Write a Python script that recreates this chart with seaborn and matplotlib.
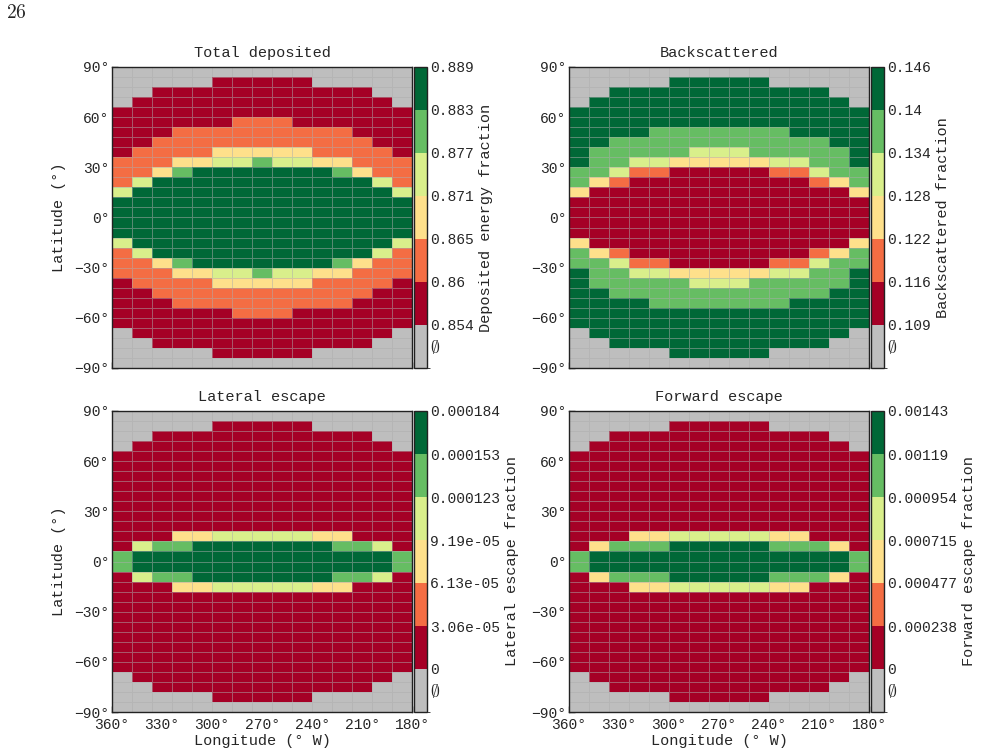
import numpy as np
import matplotlib
matplotlib.use('Agg')
import matplotlib.pyplot as plt
import seaborn as sns
from matplotlib.colors import ListedColormap, BoundaryNorm

sns.set_style('white')
plt.rcParams['font.family'] = ['Liberation Mono', 'DejaVu Sans']
plt.rcParams['mathtext.fontset'] = 'cm'

lon_labels = ['360°', '330°', '300°', '270°', '240°', '210°', '180°']
lat_labels = ['90°', '60°', '30°', '0°', '−30°', '−60°', '−90°']

# bin edges as printed on each colour bar
dep_edges = ['0.854', '0.86', '0.865', '0.871', '0.877', '0.883', '0.889']
back_edges = ['0.109', '0.116', '0.122', '0.128', '0.134', '0.14', '0.146']
lat_edges = ['0', '3.06e-05', '6.13e-05', '9.19e-05', '0.000123', '0.000153', '0.000184']
fwd_edges = ['0', '0.000238', '0.000477', '0.000715', '0.000954', '0.00119', '0.00143']

# colour bin of each 12 x 6 deg cell, rows from 90N down to 90S, 360W -> 180W
# 0 = lowest bin ... 5 = highest bin, '.' = no data
dep_bins = [
    '...............',
    '.....00000.....',
    '..00000000000..',
    '.0000000000000.',
    '000000000000000',
    '000000111000000',
    '000111111111000',
    '001111111111100',
    '011112222211110',
    '111223343322111',
    '112455555554211',
    '135555555555531',
    '355555555555553',
    '555555555555555',
    '555555555555555',
    '555555555555555',
    '555555555555555',
    '355555555555553',
    '135555555555531',
    '112455555554211',
    '111223343322111',
    '011112222211110',
    '001111111111100',
    '000111111111000',
    '000000111000000',
    '000000000000000',
    '.0000000000000.',
    '..00000000000..',
    '.....00000.....',
    '...............',
]

back_bins = [
    '...............',
    '.....55555.....',
    '..55555555555..',
    '.5555555555555.',
    '555555555555555',
    '555555555555555',
    '555544444445555',
    '554444444444455',
    '544444333444445',
    '544332222233445',
    '443110000011344',
    '421000000000124',
    '200000000000002',
    '000000000000000',
    '000000000000000',
    '000000000000000',
    '000000000000000',
    '200000000000002',
    '421000000000124',
    '443110000011344',
    '544332222233445',
    '544444333444445',
    '554444444444455',
    '555544444445555',
    '555555555555555',
    '555555555555555',
    '.5555555555555.',
    '..55555555555..',
    '.....55555.....',
    '...............',
]

lat_bins = [
    '...............',
    '.....00000.....',
    '..00000000000..',
    '.0000000000000.',
    '000000000000000',
    '000000000000000',
    '000000000000000',
    '000000000000000',
    '000000000000000',
    '000000000000000',
    '000000000000000',
    '000000000000000',
    '000223333322000',
    '034455555554430',
    '455555555555554',
    '455555555555554',
    '034455555554430',
    '000223333322000',
    '000000000000000',
    '000000000000000',
    '000000000000000',
    '000000000000000',
    '000000000000000',
    '000000000000000',
    '000000000000000',
    '000000000000000',
    '.0000000000000.',
    '..00000000000..',
    '.....00000.....',
    '...............',
]

fwd_bins = [
    '...............',
    '.....00000.....',
    '..00000000000..',
    '.0000000000000.',
    '000000000000000',
    '000000000000000',
    '000000000000000',
    '000000000000000',
    '000000000000000',
    '000000000000000',
    '000000000000000',
    '000000000000000',
    '000223333322000',
    '024445555544420',
    '455555555555554',
    '455555555555554',
    '024445555544420',
    '000223333322000',
    '000000000000000',
    '000000000000000',
    '000000000000000',
    '000000000000000',
    '000000000000000',
    '000000000000000',
    '000000000000000',
    '000000000000000',
    '.0000000000000.',
    '..00000000000..',
    '.....00000.....',
    '...............',
]

colors = ['#a50026', '#f46d43', '#fee08b', '#d9ef8b', '#66bd63', '#006837']
nodata = '#bebebe'


def draw(ax, cax, bins, edges, title, cbar_label, xlabels, ylabel):
    e = [float(s) for s in edges]
    step = (e[-1] - e[0]) / 6
    mids = [(e[i] + e[i + 1]) / 2 for i in range(6)]
    empty = e[0] - step / 2
    vals = np.array([[empty if c == '.' else mids[int(c)] for c in row] for row in bins])
    bounds = [e[0] - step] + e
    cmap = ListedColormap([nodata] + colors)
    norm = BoundaryNorm(bounds, cmap.N)
    sns.heatmap(vals, ax=ax, cbar_ax=cax, cmap=cmap, norm=norm,
                linewidths=0.6, linecolor=(0.68, 0.68, 0.68, 0.5),
                xticklabels=False, yticklabels=False,
                cbar_kws={'ticks': [empty] + e, 'spacing': 'uniform'})
    for sp in ax.spines.values():
        sp.set_visible(True)
        sp.set_color('#222222')
        sp.set_linewidth(1)
    ax.set_xticks(np.linspace(0, 15, 7))
    ax.set_yticks(np.linspace(0, 30, 7))
    ax.set_xticklabels(lon_labels, fontsize=10.5)
    ax.set_yticklabels(lat_labels, fontsize=10.5, rotation=0)
    ax.tick_params(direction='in', length=4, width=1, color='#222222',
                   bottom=True, left=True, pad=4.5)
    ax.tick_params(axis='y', pad=2)
    if not xlabels:
        ax.tick_params(labelbottom=False)
    else:
        ax.set_xlabel('Longitude (° W)', fontsize=11, labelpad=1)
    if ylabel:
        ax.set_ylabel('Latitude (°)', fontsize=11, labelpad=6)
    ax.set_title(title, fontsize=11, pad=7)

    cb = ax.collections[0].colorbar
    cb.set_ticklabels([r'$\emptyset$'] + edges)
    cb.ax.tick_params(length=0, labelsize=10.5, pad=2)
    cb.ax.get_yticklabels()[0].set_fontsize(13)
    cb.outline.set_linewidth(1)
    cb.outline.set_edgecolor('#222222')
    cb.set_label(cbar_label, fontsize=11, labelpad=4)


fig = plt.figure(figsize=(9.81, 7.55), dpi=100)
W, H = 981, 755


def box(l, t, w, h):
    return [l / W, 1 - (t + h) / H, w / W, h / H]


ax1 = fig.add_axes(box(112, 67, 300, 301))
cx1 = fig.add_axes(box(414, 67, 13, 301))
ax2 = fig.add_axes(box(569, 67, 300, 301))
cx2 = fig.add_axes(box(871, 67, 13, 301))
ax3 = fig.add_axes(box(112, 411, 300, 301))
cx3 = fig.add_axes(box(414, 411, 13, 301))
ax4 = fig.add_axes(box(569, 411, 300, 301))
cx4 = fig.add_axes(box(871, 411, 13, 301))

draw(ax1, cx1, dep_bins, dep_edges, 'Total deposited', 'Deposited energy fraction', False, True)
draw(ax2, cx2, back_bins, back_edges, 'Backscattered', 'Backscattered fraction', False, False)
draw(ax3, cx3, lat_bins, lat_edges, 'Lateral escape', 'Lateral escape fraction', True, True)
draw(ax4, cx4, fwd_bins, fwd_edges, 'Forward escape', 'Forward escape fraction', True, False)

fig.text(6 / W, 1 - 4 / H, r'$26$', fontsize=14, va='top', ha='left')

fig.savefig('out.png', dpi=100)
